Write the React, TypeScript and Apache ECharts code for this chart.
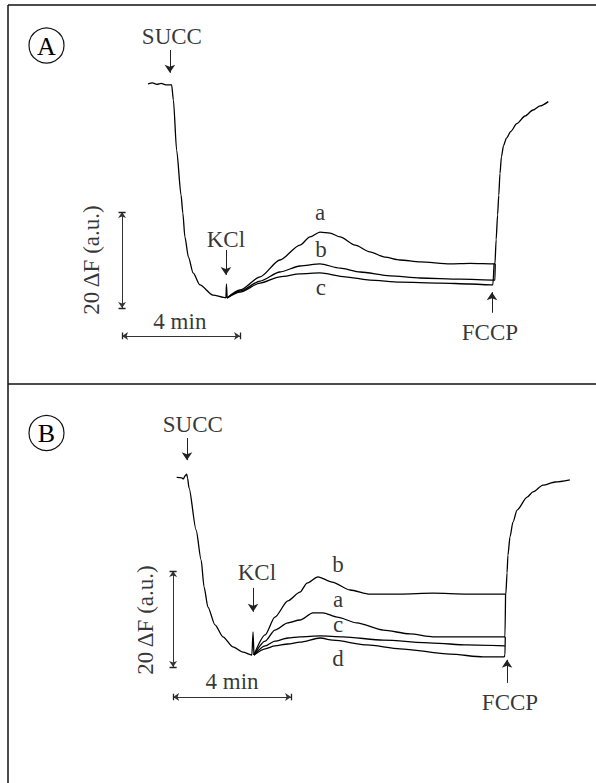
import React, { useEffect, useRef } from "react";
import * as echarts from "echarts";

// Time in minutes, fluorescence in a.u. (ΔF)
const traceA_pre = [[0.95,56.7],[1.10,56.9],[1.25,56.6],[1.40,56.8],[1.55,56.5],[1.75,56.5],[1.81,53.3],[1.92,42.9],[2.07,33.5],[2.13,29.8],[2.20,24.8],[2.32,20.6],[2.48,17.3],[2.71,14.8],[3.15,12.7],[3.59,12.1],[3.61,15.0],[3.63,12.1]];
const traceA_a = [[3.63,12.1],[4.07,13.75],[4.75,16.5],[5.42,20.0],[6.10,23.1],[6.44,24.8],[6.78,25.8],[7.12,25.6],[7.46,24.8],[7.97,23.1],[8.47,21.7],[8.98,20.6],[9.49,20.0],[10.17,19.6],[11.19,19.2],[11.86,19.3],[12.71,19.2],[12.75,24.2],[12.80,29.4],[12.84,33.5],[12.88,38.0],[12.93,41.5],[13.0,43.8],[13.1,45.4],[13.25,46.8],[13.45,48.4],[13.73,50.0],[14.0,51.25],[14.24,52.1],[14.52,53.0]];
const traceA_b = [[3.63,12.1],[4.07,13.5],[4.75,15.6],[5.42,17.5],[6.10,18.75],[6.78,19.2],[7.46,18.3],[8.14,17.5],[9.15,16.7],[10.17,16.25],[11.53,16.0],[12.71,15.8],[12.72,19.2]];
const traceA_c = [[3.63,12.1],[4.07,13.3],[4.75,15.2],[5.42,16.5],[6.10,17.1],[6.78,17.3],[7.63,16.5],[8.47,15.8],[9.49,15.4],[10.85,15.2],[11.86,15.0],[12.64,14.8],[12.68,19.2]];

const traceB_pre = [[1.92,52.2],[2.09,52.1],[2.15,51.9],[2.20,52.5],[2.26,52.9],[2.29,52.1],[2.34,50.0],[2.58,41.25],[2.75,35.0],[2.85,29.4],[2.98,25.2],[3.22,21.5],[3.49,19.0],[3.83,16.9],[4.17,15.8],[4.47,15.2],[4.51,20.0],[4.54,15.2]];
const traceB_b = [[4.54,15.2],[4.92,19.4],[5.25,23.1],[5.69,26.5],[6.10,28.3],[6.34,30.2],[6.71,31.5],[7.19,30.4],[7.80,28.75],[8.47,27.9],[9.49,27.9],[10.61,28.1],[11.76,27.9],[13.05,27.9],[13.08,27.9],[13.12,32.3],[13.15,36.0],[13.22,39.8],[13.32,42.9],[13.46,45.4],[13.80,48.1],[14.0,49.2],[14.34,50.6],[14.75,51.25],[15.25,51.7]];
const traceB_a = [[4.54,15.2],[4.92,18.1],[5.25,20.4],[5.69,21.9],[6.10,22.5],[6.54,24.0],[6.88,24.0],[7.36,23.1],[8.03,21.9],[8.92,20.4],[9.83,19.6],[10.61,19.0],[11.76,19.0],[13.05,19.0],[13.07,27.9]];
const traceB_c = [[4.54,15.2],[4.92,17.1],[5.25,18.1],[5.69,18.75],[6.10,19.0],[6.78,19.2],[7.56,19.0],[8.92,18.3],[10.61,17.7],[11.76,17.3],[13.05,17.1]];
const traceB_d = [[4.54,15.2],[4.92,16.5],[5.25,17.1],[5.69,17.5],[6.10,17.9],[6.78,18.75],[7.22,18.3],[8.37,17.3],[9.49,16.5],[11.19,15.4],[12.31,14.8],[13.02,14.8],[13.05,15.2],[13.06,19.0]];

// Annotation text anchors [x, y] in data units
const labelsA = [
  { name: "SUCC", value: [1.76, 66.5] },
  { name: "KCl", value: [3.59, 24.2] },
  { name: "FCCP", value: [12.54, 4.8] },
  { name: "a", value: [6.78, 29.8] },
  { name: "b", value: [6.81, 22.1] },
  { name: "c", value: [6.81, 14.2] },
  { name: "4 min", value: [2.03, 7.1] },
  { name: "20 ΔF (a.u.)", value: [-0.95, 20], rotate: 90 },
];
const labelsB = [
  { name: "SUCC", value: [2.47, 63.3] },
  { name: "KCl", value: [4.64, 32.3] },
  { name: "FCCP", value: [13.22, 5.4] },
  { name: "b", value: [7.39, 34.0] },
  { name: "a", value: [7.39, 26.7] },
  { name: "c", value: [7.39, 21.5] },
  { name: "d", value: [7.39, 14.4] },
  { name: "4 min", value: [3.8, 9.6] },
  { name: "20 ΔF (a.u.)", value: [0.85, 22.5], rotate: 90 },
];

// Addition arrows (tail -> head)
const arrowsA = [
  [[1.69, 63.75], [1.69, 59.0]],
  [[3.59, 22.1], [3.59, 16.9]],
  [[12.61, 9.0], [12.61, 13.3]],
];
const arrowsB = [
  [[2.27, 60.4], [2.27, 55.8]],
  [[4.51, 29.2], [4.51, 24.2]],
  [[13.12, 9.4], [13.12, 14.2]],
];

// Scale bars: 20 a.u. and 4 min
const scaleA = { x0: 0.07, yv0: 10, yv1: 30, yh: 4.17, minutes: 4 };
const scaleB = { x0: 1.8, yv0: 12.7, yv1: 32.7, yh: 6.46, minutes: 4 };

const FONT = '"Liberation Serif", "DejaVu Serif", "Times New Roman", serif';

function traceSeries(data: number[][], idx: number) {
  return {
    type: "line",
    xAxisIndex: idx,
    yAxisIndex: idx,
    data,
    showSymbol: false,
    symbol: "none",
    silent: true,
    smooth: 0.25,
    smoothMonotone: "x",
    lineStyle: { color: "#000", width: 1.3 },
  };
}

function labelSeries(items: any[], idx: number) {
  return {
    type: "scatter",
    xAxisIndex: idx,
    yAxisIndex: idx,
    symbolSize: 1,
    silent: true,
    itemStyle: { color: "rgba(0,0,0,0)" },
    label: {
      show: true,
      position: "inside",
      formatter: "{b}",
      color: "#000",
      fontFamily: FONT,
      fontSize: 23,
      align: "center",
      verticalAlign: "middle",
    },
    data: items.map((it) => ({
      name: it.name,
      value: it.value,
      label: it.rotate ? { rotate: it.rotate } : undefined,
    })),
  };
}

function arrowSeries(arrows: number[][][], idx: number) {
  return {
    type: "lines",
    coordinateSystem: "cartesian2d",
    xAxisIndex: idx,
    yAxisIndex: idx,
    silent: true,
    symbol: ["none", "arrow"],
    symbolSize: [6, 8],
    lineStyle: { color: "#222", width: 1, opacity: 1, curveness: 0 },
    data: arrows.map((c) => ({ coords: c })),
  };
}

function scaleSeries(s: any, idx: number) {
  const xEnd = s.x0 + s.minutes;
  return [
    {
      type: "lines",
      coordinateSystem: "cartesian2d",
      xAxisIndex: idx,
      yAxisIndex: idx,
      silent: true,
      symbol: ["arrow", "arrow"],
      symbolSize: 6,
      lineStyle: { color: "#333", width: 1, opacity: 1, curveness: 0 },
      data: [
        { coords: [[s.x0, s.yv0], [s.x0, s.yv1]] },
        { coords: [[s.x0, s.yh], [xEnd, s.yh]] },
      ],
    },
    {
      type: "lines",
      coordinateSystem: "cartesian2d",
      xAxisIndex: idx,
      yAxisIndex: idx,
      silent: true,
      symbol: ["none", "none"],
      lineStyle: { color: "#222", width: 1.3, opacity: 1, curveness: 0 },
      data: [
        { coords: [[s.x0 - 0.12, s.yv0], [s.x0 + 0.12, s.yv0]] },
        { coords: [[s.x0 - 0.12, s.yv1], [s.x0 + 0.12, s.yv1]] },
        { coords: [[s.x0, s.yh - 0.7], [s.x0, s.yh + 0.7]] },
        { coords: [[xEnd, s.yh - 0.7], [xEnd, s.yh + 0.7]] },
      ],
    },
  ];
}

export default function App() {
  const ref = useRef<HTMLDivElement>(null);
  useEffect(() => {
    if (!ref.current) return;
    const chart = echarts.init(ref.current, null, { renderer: "svg" });
    const axisCommon = { type: "value", show: false, splitLine: { show: false } };
    chart.setOption({
      animation: false,
      backgroundColor: "#fff",
      grid: [
        { left: 2, top: 20, width: 590, height: 336 },
        { left: 2, top: 392, width: 590, height: 336 },
      ],
      xAxis: [
        { ...axisCommon, gridIndex: 0, min: -4, max: 16 },
        { ...axisCommon, gridIndex: 1, min: -4, max: 16 },
      ],
      yAxis: [
        { ...axisCommon, gridIndex: 0, min: 0, max: 70 },
        { ...axisCommon, gridIndex: 1, min: 0, max: 70 },
      ],
      graphic: [
        { type: "line", shape: { x1: 8, y1: 5, x2: 596, y2: 5 }, style: { stroke: "#111", lineWidth: 1.5 } },
        { type: "line", shape: { x1: 8, y1: 5, x2: 8, y2: 783 }, style: { stroke: "#111", lineWidth: 1.5 } },
        { type: "line", shape: { x1: 8, y1: 384, x2: 596, y2: 384 }, style: { stroke: "#111", lineWidth: 1.5 } },
        { type: "circle", shape: { cx: 46.5, cy: 45.5, r: 17.5 }, style: { fill: "none", stroke: "#111", lineWidth: 1.2 } },
        { type: "text", x: 46.5, y: 46, style: { text: "A", font: `26px ${FONT}`, fill: "#000", align: "center", verticalAlign: "middle" } },
        { type: "circle", shape: { cx: 46.5, cy: 433, r: 17.5 }, style: { fill: "none", stroke: "#111", lineWidth: 1.2 } },
        { type: "text", x: 46.5, y: 433.5, style: { text: "B", font: `26px ${FONT}`, fill: "#000", align: "center", verticalAlign: "middle" } },
      ],
      series: [
        traceSeries(traceA_pre, 0),
        traceSeries(traceA_a, 0),
        traceSeries(traceA_b, 0),
        traceSeries(traceA_c, 0),
        traceSeries(traceB_pre, 1),
        traceSeries(traceB_b, 1),
        traceSeries(traceB_a, 1),
        traceSeries(traceB_c, 1),
        traceSeries(traceB_d, 1),
        labelSeries(labelsA, 0),
        labelSeries(labelsB, 1),
        arrowSeries(arrowsA, 0),
        arrowSeries(arrowsB, 1),
        ...scaleSeries(scaleA, 0),
        ...scaleSeries(scaleB, 1),
      ],
    });
    return () => chart.dispose();
  }, []);
  return (
    <div
      ref={ref}
      style={{ position: "fixed", left: 0, top: 0, width: 596, height: 783, background: "#fff" }}
    />
  );
}
